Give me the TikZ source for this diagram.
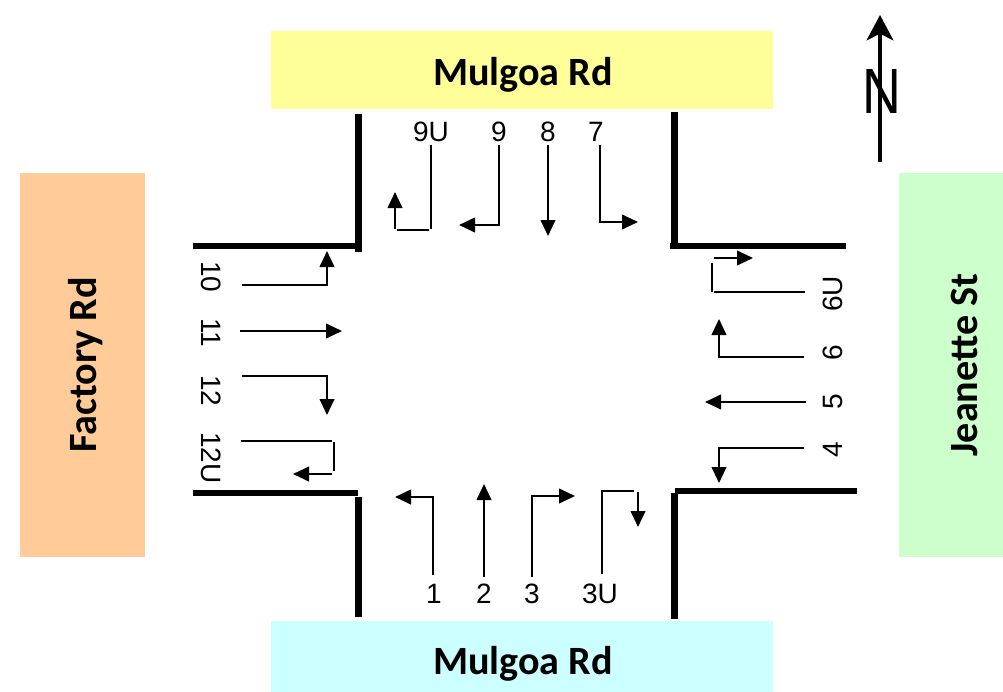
\documentclass[tikz,border=0pt]{standalone}
\usepackage{fontspec}
\usepackage{xcolor}
\usetikzlibrary{arrows.meta}
\setmainfont{Liberation Sans}
\newfontfamily\roadfont{Carlito}
\definecolor{roadyellow}{HTML}{FFFF99}
\definecolor{roadcyan}{HTML}{CCFFFF}
\definecolor{roadorange}{HTML}{FFCC99}
\definecolor{roadgreen}{HTML}{CCFFCC}

\begin{document}
\begin{tikzpicture}
    [x=0.75pt,y=-0.75pt,
    road/.style={inner sep=0pt,text depth=0pt,font=\roadfont\bfseries\fontsize{30.1}{34}\selectfont},
    lane/.style={inner sep=0pt,font=\fontsize{21}{24}\selectfont},
    plain/.style={line width=1.5pt},
    move/.style={line width=1.5pt,-{Triangle[length=12pt,width=11pt]}},
    kerb/.style={line width=4.8pt}]
    \useasboundingbox (0,0) rectangle (1003,692);

    \node[road,fill=roadyellow,minimum width=376.5pt,minimum height=58pt] (north road) at (522,70) {};
    \node[road] (north name) at (523,71) {Mulgoa Rd};
    \node[road,fill=roadcyan,minimum width=376.5pt,minimum height=53pt] (south road) at (522,656.5) {};
    \node[road] (south name) at (523,660) {Mulgoa Rd};
    \node[road,fill=roadorange,minimum width=288pt,minimum height=94pt,rotate=90] (west road) at (82.5,365) {Factory Rd};
    \node[road,fill=roadgreen,minimum width=288pt,minimum height=78pt,rotate=90] (east road) at (951,365) {};
    \node[road,rotate=90] (east name) at (964,365) {Jeanette St};

    \draw[kerb] (358.5,114) -- (358.5,252);
    \draw[kerb] (193,246) -- (360,246);
    \draw[kerb] (674.5,112) -- (674.5,248);
    \draw[kerb] (670,246) -- (846,246);
    \draw[kerb] (193,493) -- (358,493);
    \draw[kerb] (358.5,497) -- (358.5,617);
    \draw[kerb] (675,491) -- (857,491);
    \draw[kerb] (674.5,493) -- (674.5,619);

    \node[lane] (n9u) at (431,132) {9U};
    \node[lane] (n9) at (499,132) {9};
    \node[lane] (n8) at (548,132) {8};
    \node[lane] (n7) at (596,132) {7};
    \node[lane] (n1) at (434,594) {1};
    \node[lane] (n2) at (484,594) {2};
    \node[lane] (n3) at (532,594) {3};
    \node[lane] (n3u) at (600,594) {3U};
    \node[lane,rotate=-90] (n10) at (211,277) {10};
    \node[lane,rotate=-90] (n11) at (211,333) {11};
    \node[lane,rotate=-90] (n12) at (211,391) {12};
    \node[lane,rotate=-90] (n12u) at (211,458) {12U};
    \node[lane,rotate=90] (n6u) at (833,294) {6U};
    \node[lane,rotate=90] (n6) at (833,353) {6};
    \node[lane,rotate=90] (n5) at (833,402) {5};
    \node[lane,rotate=90] (n4) at (833,450) {4};

    \coordinate (s9u) at (431,145);
    \coordinate (b9u) at (431,229);
    \coordinate (c9u) at (429,230);
    \coordinate (d9u) at (397,230);
    \coordinate (e9u) at (395,229);
    \coordinate (t9u) at (395,192);
    \coordinate (s9) at (499,145);
    \coordinate (t9) at (459,225);
    \coordinate (s8) at (548,145);
    \coordinate (t8) at (548,236);
    \coordinate (s7) at (600,145);
    \coordinate (t7) at (638,222);
    \coordinate (s10) at (242,285);
    \coordinate (t10) at (327,251);
    \coordinate (s11) at (240,331);
    \coordinate (t11) at (342,331);
    \coordinate (s12) at (242,376);
    \coordinate (t12) at (327,415);
    \coordinate (s12u) at (241,441);
    \coordinate (b12u) at (332,441);
    \coordinate (c12u) at (334,442);
    \coordinate (d12u) at (334,471);
    \coordinate (e12u) at (332,474);
    \coordinate (t12u) at (293,474);
    \coordinate (s1) at (433,575);
    \coordinate (t1) at (395,497);
    \coordinate (s2) at (484,577);
    \coordinate (t2) at (484,484);
    \coordinate (s3) at (532,577);
    \coordinate (t3) at (575,496);
    \coordinate (s3u) at (602,574);
    \coordinate (b3u) at (634,491);
    \coordinate (e3u) at (638,492);
    \coordinate (t3u) at (638,527);
    \coordinate (s4) at (804,448);
    \coordinate (t4) at (719,483);
    \coordinate (s5) at (806,402);
    \coordinate (t5) at (705,402);
    \coordinate (s6) at (804,357);
    \coordinate (t6) at (719,319);
    \coordinate (s6u) at (805,292);
    \coordinate (b6u) at (714,292);
    \coordinate (c6u) at (712,292);
    \coordinate (d6u) at (712,263);
    \coordinate (e6u) at (714,258);
    \coordinate (t6u) at (753,258);

    \draw[plain] (s9u) -- (b9u);
    \draw[plain] (c9u) -- (d9u);
    \draw[move] (e9u) -- (t9u);
    \draw[move] (s9) |- (t9);
    \draw[move] (s8) -- (t8);
    \draw[move] (s7) |- (t7);
    \draw[move] (s10) -| (t10);
    \draw[move] (s11) -- (t11);
    \draw[move] (s12) -| (t12);
    \draw[plain] (s12u) -- (b12u);
    \draw[plain] (c12u) -- (d12u);
    \draw[move] (e12u) -- (t12u);
    \draw[move] (s1) |- (t1);
    \draw[move] (s2) -- (t2);
    \draw[move] (s3) |- (t3);
    \draw[plain] (s3u) |- (b3u);
    \draw[move] (e3u) -- (t3u);
    \draw[move] (s4) -| (t4);
    \draw[move] (s5) -- (t5);
    \draw[move] (s6) -| (t6);
    \draw[plain] (s6u) -- (b6u);
    \draw[plain] (c6u) -- (d6u);
    \draw[move] (e6u) -- (t6u);

    \coordinate (pointer foot) at (880,162);
    \coordinate (pointer tip) at (880,15);
    \node[inner sep=0pt,xscale=.84,font=\fontsize{48}{50}\selectfont] (north sign) at (882,91.5) {N};
    \draw[line width=3pt,-{Stealth[length=19pt,width=20pt,inset=5pt]}] (pointer foot) -- (pointer tip);
\end{tikzpicture}
\end{document}
